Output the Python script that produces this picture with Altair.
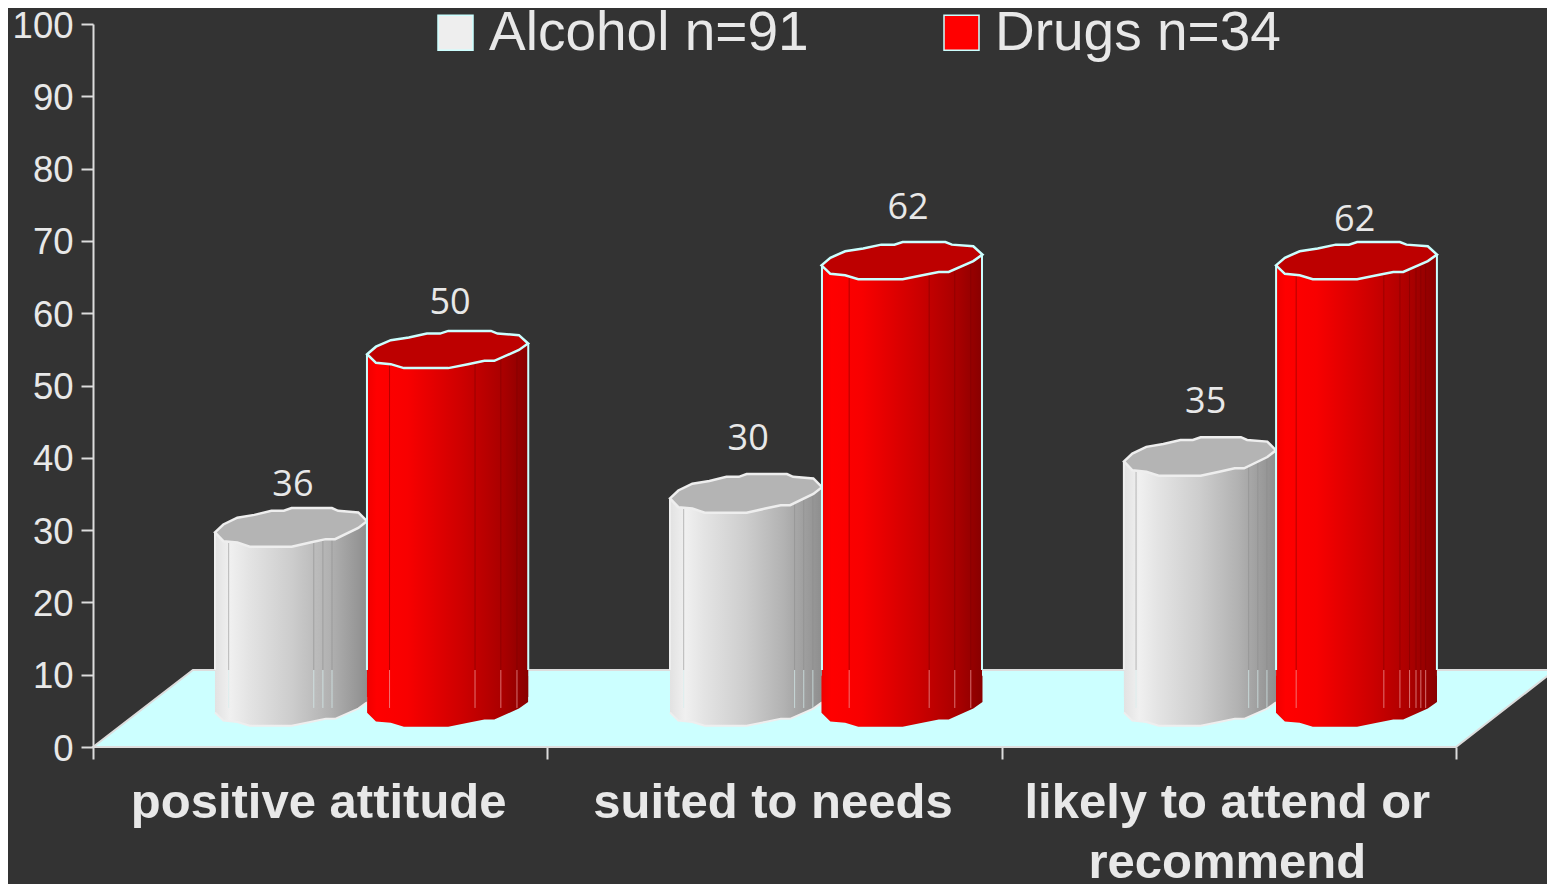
import altair as alt
import pandas as pd

FONT = "Liberation Sans"
TXT = "#e8e8e8"
BG = "#333333"

series = ["Alcohol n=91", "Drugs n=34"]
categories = ["positive attitude", "suited to needs", ["likely to attend or", "recommend"]]

value_labels = {"Alcohol n=91": ["36", "30", "35"], "Drugs n=34": ["50", "62", "62"]}
label_pos_x = {"Alcohol n=91": [0.44, 1.442, 2.449], "Drugs n=34": [0.786, 1.794, 2.777]}
label_pos_y = {"Alcohol n=91": [36.2, 42.6, 47.7], "Drugs n=34": [61.4, 74.5, 72.9]}
bar_left = {"Alcohol n=91": [0.2685, 1.27, 2.269], "Drugs n=34": [0.603, 1.6045, 2.604]}
bar_right = {"Alcohol n=91": [0.603, 1.6045, 2.604], "Drugs n=34": [0.958, 1.9567, 2.958]}
bar_top = {"Alcohol n=91": [30.4, 35.1, 40.2], "Drugs n=34": [55.0, 67.3, 67.3]}
bar_base = 5.4

facet_fractions = {
    "Alcohol n=91": [[0.09, 0.65, 0.71, 0.77], [0.09, 0.82, 0.88, 0.94], [0.08, 0.82, 0.88, 0.94]],
    "Drugs n=34": [[0.14, 0.67, 0.83, 0.93], [0.17, 0.67, 0.83, 0.93], [0.125, 0.67, 0.77, 0.83, 0.87, 0.9, 0.93]],
}

floor_x = [0, 0.22, 3, 3.218]
floor_top = [0, 10.65, 10.65, 10.65]
floor_bottom = [0, 0, 0, 10.65]

body_grad = {
    "Alcohol n=91": [(0, "#e2e2e2"), (0.1, "#f0f0f0"), (0.22, "#e4e4e4"), (0.5, "#cdcdcd"), (0.75, "#b2b2b2"), (1, "#8e8e8e")],
    "Drugs n=34": [(0, "#f00000"), (0.06, "#ff0000"), (0.25, "#f80000"), (0.6, "#cc0000"), (0.85, "#a80000"), (1, "#880000")],
}
top_fill = {"Alcohol n=91": "#b4b4b4", "Drugs n=34": "#bd0000"}
edge = {"Alcohol n=91": "#eeeeee", "Drugs n=34": "#ccffff"}
facet_dark = {"Alcohol n=91": "#8a8a8a", "Drugs n=34": "#7a0000"}
facet_light = {"Alcohol n=91": "#d5eeee", "Drugs n=34": "#f0a0a0"}
ellipse_size = {"Alcohol n=91": 23104, "Drugs n=34": 25921}
ellipse_squash = {"Alcohol n=91": 1.1, "Drugs n=34": 1.0}

# outline of a cylinder's end, unit half-width
rim_upper = [(-1, .061), (-.89, -.033), (-.706, -.114), (-.482, -.147), (-.257, -.196), (-.094, -.196),
             (.008, -.229), (.539, -.229), (.62, -.196), (.886, -.176), (1, -.073)]
rim_lower = [(1, -.073), (.886, .008), (.58, .143), (.457, .143), (.253, .184), (.008, .233),
             (-.543, .233), (-.706, .184), (-.89, .167), (-1, .061)]


def path(points, k, close=True):
    return "M" + "L".join(f"{x:.3f},{y * k:.3f}" for x, y in points) + ("Z" if close else "")


x_scale = alt.Scale(domain=[0, 3.2003], nice=False, zero=False)
y_scale = alt.Scale(domain=[0, 100], nice=False)
X = alt.X("x:Q", scale=x_scale, title=None)
Y = alt.Y("y:Q", scale=y_scale, title=None)

label_expr = (
    f"datum.value == 0.5 ? '{categories[0]}' : "
    f"datum.value == 1.5 ? '{categories[1]}' : "
    f"datum.value == 2.5 ? ['{categories[2][0]}', '{categories[2][1]}'] : ''"
)

x_axis = alt.Axis(
    values=[0, 0.5, 1, 1.5, 2, 2.5, 3], domain=False, grid=False, tickSize=12, tickWidth=2,
    tickColor="#dddddd", tickOpacity={"condition": {"test": "datum.value % 1 != 0", "value": 0}, "value": 1},
    labelExpr=label_expr, labelFont=FONT, labelFontWeight="bold", labelFontSize=49, labelColor=TXT,
    labelPadding=19, labelLineHeight=60, labelOverlap=False, labelBound=False, labelFlush=False, labelAngle=0,
    labelLimit=800, labelOffset=-2,
)
y_axis = alt.Axis(
    values=list(range(0, 101, 10)), grid=False, domainColor="#dddddd", domainWidth=2, tickColor="#dddddd",
    tickWidth=2, tickSize=12, labelFont=FONT, labelFontSize=36.5, labelColor=TXT, labelPadding=8,
    labelOverlap=False, labelBound=False, labelFlush=False, labelOffset=2,
)

floor = alt.Chart(pd.DataFrame({"x": floor_x, "y": floor_top, "y2": floor_bottom})).mark_area(
    color="#ccffff", stroke="#dddddd", strokeWidth=2, interpolate="linear"
).encode(
    x=alt.X("x:Q", scale=x_scale, title=None, axis=x_axis),
    y=alt.Y("y:Q", scale=y_scale, title=None, axis=y_axis, stack=None),
    y2="y2:Q",
)

legend = alt.Chart(pd.DataFrame({"s": series, "x": [0, 0], "y": [0, 0]})).mark_square(size=0, filled=True).encode(
    x=X, y=Y,
    color=alt.Color("s:N", scale=alt.Scale(domain=series, range=["#eeeeee", "#ff0000"]), legend=alt.Legend(
        title=None, orient="none", legendX=335, legendY=-19, direction="horizontal", symbolType="square",
        symbolSize=1225, symbolStrokeColor="#ccffff", symbolStrokeWidth=1.5, labelFont=FONT, labelFontSize=55,
        labelColor=TXT, labelOffset=6, columnPadding=125, labelLimit=500, symbolOpacity=1,
    )),
)

layers = [floor]
for s in series:
    tops = bar_top[s]
    bars = pd.DataFrame({
        "x": bar_left[s], "x2": bar_right[s], "y": tops, "y2": [bar_base] * 3,
        "xc": [(a + b) / 2 for a, b in zip(bar_left[s], bar_right[s])],
        "body_top": [t - 1.4 for t in tops],
        "body_bottom": [bar_base + 1.5] * 3,
        "left_top": [t - 0.68 for t in tops],
        "right_top": [t + 0.8 for t in tops],
        "floor": [10.65] * 3,
    })
    grad = alt.LinearGradient(gradient="linear", stops=[alt.GradientStop(offset=o, color=c) for o, c in body_grad[s]], x1=0, x2=1, y1=0, y2=0)
    size = ellipse_size[s]
    k = ellipse_squash[s]
    bottom_shape = path(rim_lower + [(-1, -.4), (1, -.4)], 1.0)
    skirt_shape = path(rim_lower + [(-1, .5), (1, .5)], k)
    top_shape = path(rim_upper + rim_lower[1:-1], k)
    xc = alt.X("xc:Q", scale=x_scale, title=None)
    base_y = alt.Y("y2:Q", scale=y_scale, title=None)

    layers.append(alt.Chart(bars).mark_point(
        shape=bottom_shape, size=size, filled=True, fill=grad, strokeWidth=0, opacity=1
    ).encode(x=xc, y=base_y))
    if s == series[0]:
        layers.append(alt.Chart(bars).mark_point(
            shape=path(rim_lower, 1.0, close=False), size=size, filled=False, stroke=edge[s], strokeWidth=2, opacity=1
        ).encode(x=xc, y=base_y))
    layers.append(alt.Chart(bars).mark_rect(color=grad).encode(
        x=X, x2="x2:Q", y=alt.Y("body_top:Q", scale=y_scale, title=None), y2="body_bottom:Q"))
    layers.append(alt.Chart(bars).mark_point(
        shape=skirt_shape, size=size, filled=True, fill=grad, strokeWidth=0, opacity=1
    ).encode(x=xc, y=Y))

    rows = []
    for i, fr in enumerate(facet_fractions[s]):
        for f in fr:
            rows.append({"x": bar_left[s][i] + f * (bar_right[s][i] - bar_left[s][i]), "top": tops[i]})
    fac = pd.DataFrame(rows)
    fac["floor"] = 10.65
    fac["base"] = bar_base
    layers.append(alt.Chart(fac).mark_rule(color=facet_dark[s], strokeWidth=1, opacity=0.55).encode(
        x=X, y=alt.Y("top:Q", scale=y_scale, title=None), y2="floor:Q"))
    layers.append(alt.Chart(fac).mark_rule(color=facet_light[s], strokeWidth=1, opacity=0.7).encode(
        x=X, y=alt.Y("floor:Q", scale=y_scale, title=None), y2="base:Q"))
    for col, top_col in [("x", "left_top"), ("x2", "right_top")]:
        layers.append(alt.Chart(bars).mark_rule(color=edge[s], strokeWidth=2).encode(
            x=alt.X(f"{col}:Q", scale=x_scale, title=None),
            y=alt.Y(f"{top_col}:Q", scale=y_scale, title=None), y2="floor:Q"))
    layers.append(alt.Chart(bars).mark_point(
        shape=top_shape, size=size, filled=True, fill=top_fill[s], stroke=edge[s], strokeWidth=2.5, opacity=1
    ).encode(x=xc, y=Y))

for s in series:
    labels = pd.DataFrame({"x": label_pos_x[s], "y": label_pos_y[s], "t": value_labels[s]})
    layers.append(alt.Chart(labels).mark_text(font="Open Sans", fontSize=36, color=TXT, align="center", baseline="middle").encode(
        x=X, y=Y, text="t:N"))

layers.append(legend)

chart = alt.layer(*layers).properties(
    width=1454, height=723, background=BG,
    autosize=alt.AutoSizeParams(type="none"),
    padding={"left": 85, "top": 16, "right": 0, "bottom": 137},
).configure_view(stroke=None)

chart.save("out.html", embed_options={"renderer": "svg", "actions": False})
